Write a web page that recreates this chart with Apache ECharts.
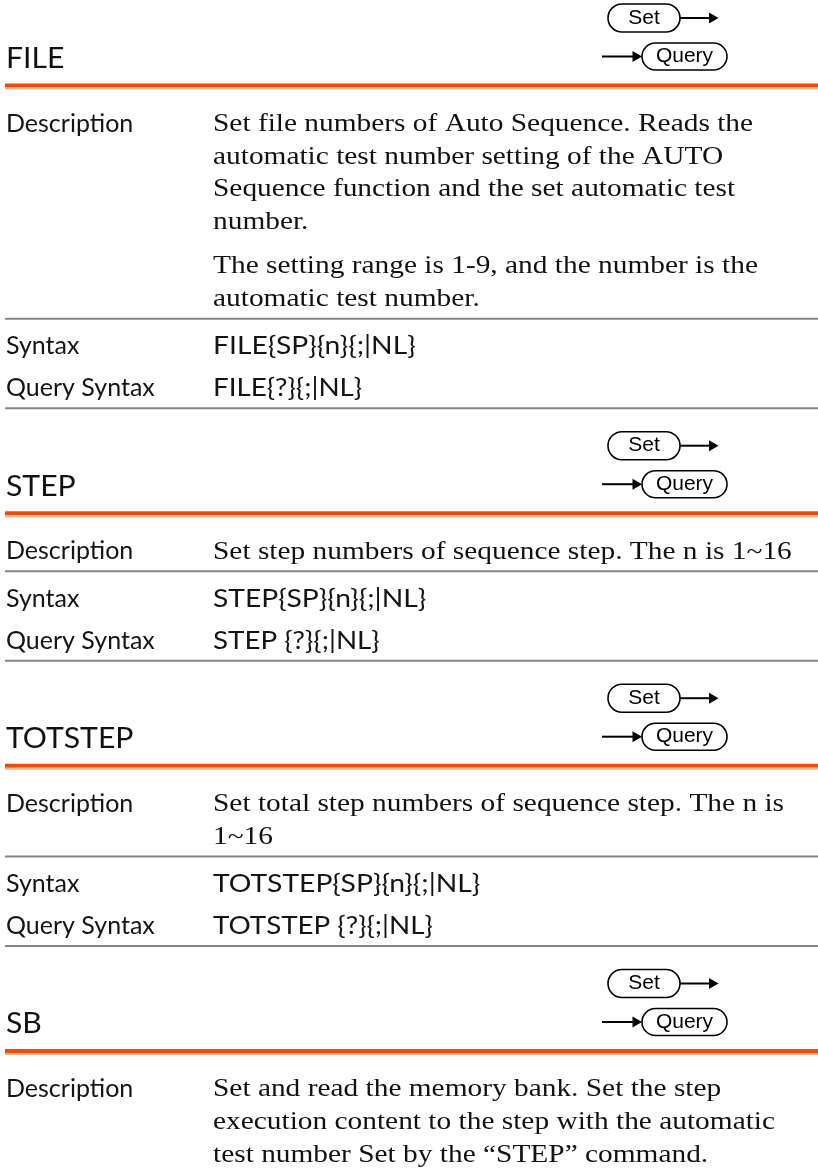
<!DOCTYPE html>
<html><head><meta charset="utf-8">
<script src="https://cdn.jsdelivr.net/npm/echarts@6/dist/echarts.min.js"></script>
<style>html,body{margin:0;padding:0;background:#fff}#c{width:818px;height:1170px}</style>
</head><body><div id="c"></div>
<script>
const titles = ['FILE', 'STEP', 'TOTSTEP', 'SB'];
const rowLabels = ['Description', 'Syntax', 'Query Syntax'];
const descriptions = [
  [['Set file numbers of Auto Sequence. Reads the', 'automatic test number setting of the AUTO', 'Sequence function and the set automatic test', 'number.'],
   ['The setting range is 1-9, and the number is the', 'automatic test number.']],
  [['Set step numbers of sequence step. The n is 1~16']],
  [['Set total step numbers of sequence step. The n is', '1~16']],
  [['Set and read the memory bank. Set the step', 'execution content to the step with the automatic', 'test number Set by the \u201cSTEP\u201d command.']]
];
const syntaxes = ['FILE{SP}{n}{;|NL}', 'STEP{SP}{n}{;|NL}', 'TOTSTEP{SP}{n}{;|NL}', null];
const querySyntaxes = ['FILE{?}{;|NL}', 'STEP {?}{;|NL}', 'TOTSTEP {?}{;|NL}', null];
const badges = ['Set', 'Query'];

const SANS = 'Lato';
const SERIF = '"Liberation Serif"';
const els = [];

function sansText(t, x, base, size, color, sx) {
  els.push({type: 'text', x: x, y: base - size * 0.36, scaleX: sx || 1, silent: true,
    style: {text: t, x: 0, y: 0, font: size + 'px ' + SANS, fill: color || '#141414', verticalAlign: 'middle', align: 'left'}});
}
function serifText(t, x, base) {
  const size = 25;
  els.push({type: 'text', x: x, y: base - size * 0.33, scaleX: 1.175, silent: true,
    style: {text: t, x: 0, y: 0, font: size + 'px ' + SERIF, fill: '#111', verticalAlign: 'middle', align: 'left'}});
}
function hline(y, h, color) {
  els.push({type: 'rect', silent: true, shape: {x: 5, y: y, width: 813, height: h}, style: {fill: color}});
}
function badgeGroup(B) {
  els.push({type: 'rect', silent: true, shape: {x: 608, y: B - 65, width: 72, height: 28, r: 14},
    style: {fill: '#fff', stroke: '#000', lineWidth: 1.6}});
  els.push({type: 'text', silent: true, x: 644, y: B - 51,
    style: {text: badges[0], font: '21px "Liberation Sans"', fill: '#000', align: 'center', verticalAlign: 'middle'}});
  els.push({type: 'line', silent: true, shape: {x1: 680, y1: B - 51, x2: 711, y2: B - 51}, style: {stroke: '#000', lineWidth: 2}});
  els.push({type: 'polygon', silent: true, shape: {points: [[709, B - 56.5], [718.5, B - 51], [709, B - 45.5]]}, style: {fill: '#000'}});
  els.push({type: 'rect', silent: true, shape: {x: 642, y: B - 26, width: 85, height: 27, r: 13.5},
    style: {fill: '#fff', stroke: '#000', lineWidth: 1.6}});
  els.push({type: 'text', silent: true, x: 684.5, y: B - 12.5,
    style: {text: badges[1], font: '21px "Liberation Sans"', fill: '#000', align: 'center', verticalAlign: 'middle'}});
  els.push({type: 'line', silent: true, shape: {x1: 602, y1: B - 12.5, x2: 634, y2: B - 12.5}, style: {stroke: '#000', lineWidth: 2}});
  els.push({type: 'polygon', silent: true, shape: {points: [[632.5, B - 18], [642, B - 12.5], [632.5, B - 7]]}, style: {fill: '#000'}});
}

let gray = null;
for (let s = 0; s < titles.length; s++) {
  const B = (gray === null) ? 69 : gray + 88.5;
  sansText(titles[s], 6, B, 29, '#111', 1.04);
  badgeGroup(B);
  const oy = B + 14.5;
  hline(oy, 4, '#E94E0E');
  hline(oy + 4, 2, '#F5B07C');
  let y = oy + 49;
  sansText(rowLabels[0], 6, y, 25);
  let last = y;
  descriptions[s].forEach(function (para, pi) {
    if (pi > 0) y += 44;
    para.forEach(function (line, li) {
      if (li > 0) y += 32.8;
      serifText(line, 213, y);
      last = y;
    });
  });
  if (syntaxes[s] === null) break;
  gray = last + 11;
  hline(gray - 1, 2, '#858585');
  const sy = gray + 36.5;
  sansText(rowLabels[1], 6, sy, 25);
  sansText(syntaxes[s], 213, sy, 25, null, 1.13);
  const qy = sy + 42;
  sansText(rowLabels[2], 6, qy, 25);
  sansText(querySyntaxes[s], 213, qy, 25, null, 1.11);
  gray = qy + 11;
  hline(gray - 1, 2, '#858585');
}

const chart = echarts.init(document.getElementById('c'), null, {renderer: 'canvas'});
chart.setOption({backgroundColor: '#fff', animation: false, graphic: {elements: els}});
</script>
</body></html>
